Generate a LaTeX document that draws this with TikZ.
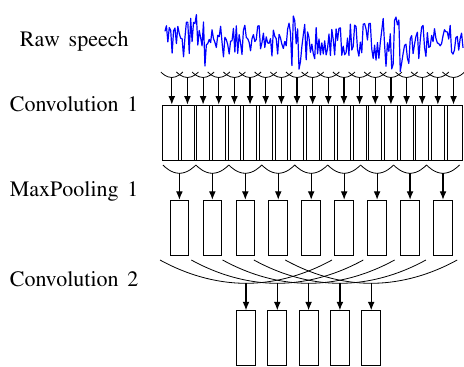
\documentclass[tikz,border=0pt]{standalone}
\usepackage[T1]{fontenc}
\usepackage{times}
\usepackage{xcolor}
\definecolor{wave}{HTML}{0000FF}
\usepackage{tikz}
\usetikzlibrary{arrows.meta, calc}

\tikzset{
  layer/.style={anchor=base west, inner sep=0pt, font=\fontsize{11}{13}\selectfont},
  unit/.style={draw, rectangle, inner sep=0pt, line width=0.4pt,
    minimum width=9.2pt, minimum height=27.5pt},
  kern/.style={line width=0.4pt},
  flow/.style={-{Latex[length=4.2pt,width=3.4pt]}, line width=0.6pt},
}

\begin{document}
\begin{tikzpicture}[x=0.5pt, y=-0.5pt]
  \useasboundingbox (0,0) rectangle (464,367);

  % layer names
  \node[layer] (raw)   at (19.5, 46.7) {Raw\hspace{0.4em}speech};
  \node[layer] (conv1) at (9.5, 111.5) {Convolution\hspace{0.4em}1};
  \node[layer] (pool1) at (9.5, 196.5) {MaxPooling\hspace{0.4em}1};
  \node[layer] (conv2) at (9.5, 286.5) {Convolution\hspace{0.4em}2};

  % raw speech signal
  \pgfmathsetseed{17}
  \draw[wave, line width=0.6pt, line join=round]
    plot[domain=165:463, samples=210]
    (\x, {40 + (12 + 16/(1+((\x-202)/14)^2) + 18/(1+((\x-298)/12)^2)
      + 21/(1+((\x-400)/20)^2))*rand});

  % convolution 1
  \foreach \i in {1,...,19} {
    \pgfmathsetmacro\cx{171.8+(\i-1)*15.65}
    \coordinate (k1-\i) at (\cx, 77.5);
    \draw[kern] (\cx-11, 72) parabola bend (k1-\i) (\cx+11, 72);
    \node[unit] (c1-\i) at (\cx, 132.5) {};
    \draw[flow] (k1-\i) -- (c1-\i.north);
  }

  % max pooling 1
  \foreach \j in {1,...,9} {
    \pgfmathsetmacro\cx{179.4+(\j-1)*32.95}
    \coordinate (k2-\j) at (\cx, 173.3);
    \draw[kern] (\cx-16.5, 165) parabola bend (k2-\j) (\cx+16.5, 165);
    \node[unit, minimum width=9.4pt] (p1-\j) at (\cx, 227.7) {};
    \draw[flow] (k2-\j) -- (p1-\j.north);
  }

  % convolution 2
  \foreach \k in {1,...,5} {
    \pgfmathsetmacro\cx{246+(\k-1)*31.3}
    \coordinate (k3-\k) at (\cx, 283.3);
    \draw[kern] (\cx-86, 260) parabola bend (k3-\k) (\cx+86, 260);
    \node[unit, minimum width=9.5pt] (c2-\k) at (\cx, 338.2) {};
    \draw[flow] (k3-\k) -- (c2-\k.north);
  }
\end{tikzpicture}
\end{document}
